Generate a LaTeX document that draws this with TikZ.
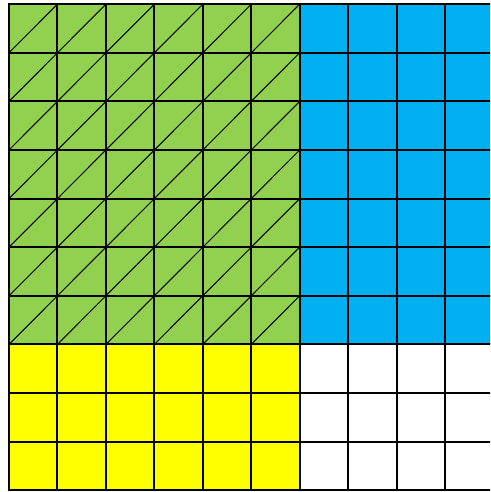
\documentclass[tikz,border=0pt]{standalone}
\definecolor{cgreen}{HTML}{92D050}
\definecolor{cblue}{HTML}{00B0F0}
\definecolor{cyellow}{HTML}{FFFF00}
\tikzset{gridline/.style={line width=2pt},diag/.style={line width=1pt}}
\begin{document}
\begin{tikzpicture}[x=1pt,y=-1pt]
\useasboundingbox (0,0) rectangle (490,492);
\clip (0,0) rectangle (490,492);
\def\cw{48.45}
\def\ch{48.6}
\def\xo{9}
\def\yo{4.2}
\fill[cgreen] (\xo,\yo) rectangle ++(6*\cw,7*\ch);
\fill[cblue] (\xo+6*\cw,\yo) rectangle ++(4*\cw,7*\ch);
\fill[cyellow] (\xo,\yo+7*\ch) rectangle ++(6*\cw,3*\ch);
\foreach \i in {0,...,5}{
  \foreach \j in {0,...,6}{
    \draw[diag] (\xo+\i*\cw,\yo+\j*\ch+\ch) -- (\xo+\i*\cw+\cw,\yo+\j*\ch);
  }
}
\foreach \i in {0,...,10}{
  \draw[gridline] (\xo+\i*\cw,\yo-1) -- (\xo+\i*\cw,\yo+10*\ch+1);
  \draw[gridline] (\xo-1,\yo+\i*\ch) -- (\xo+10*\cw+1,\yo+\i*\ch);
}
\end{tikzpicture}
\end{document}
